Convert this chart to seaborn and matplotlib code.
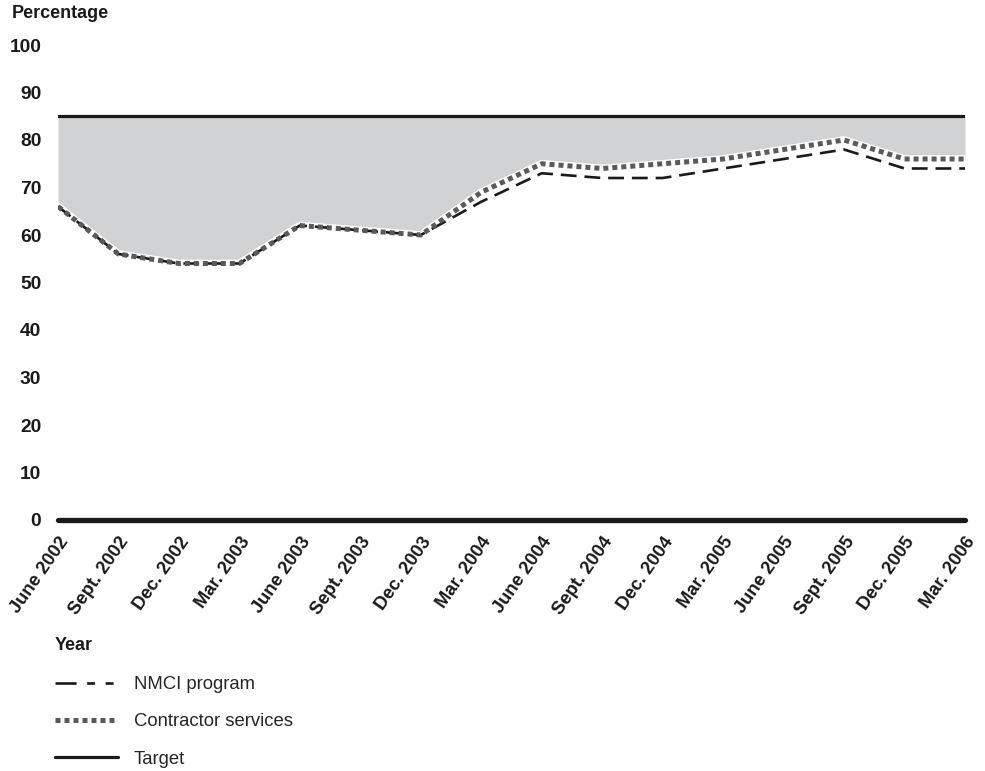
import numpy as np
import pandas as pd
import matplotlib
matplotlib.use("Agg")
import matplotlib.pyplot as plt
import seaborn as sns
from matplotlib.lines import Line2D

# data
quarters = ["June 2002", "Sept. 2002", "Dec. 2002", "Mar. 2003", "June 2003",
            "Sept. 2003", "Dec. 2003", "Mar. 2004", "June 2004", "Sept. 2004",
            "Dec. 2004", "Mar. 2005", "June 2005", "Sept. 2005", "Dec. 2005",
            "Mar. 2006"]
nmci_program = [66, 56, 54, 54, 62, 61, 60, 67, 73, 72, 72, 74, 76, 78, 74, 74]
contractor_services = [66, 56, 54, 54, 62, 61, 60, 69, 75, 74, 75, 76, 78, 80, 76, 76]
target = [85] * len(quarters)
y_ticks = [0, 10, 20, 30, 40, 50, 60, 70, 80, 90, 100]

sns.set_style("white")
plt.rcParams['font.family'] = ['Liberation Sans', 'DejaVu Sans']

df = pd.DataFrame({
    "pos": np.arange(len(quarters)),
    "NMCI program": nmci_program,
    "Contractor services": contractor_services,
    "Target": target,
})

fig = plt.figure(figsize=(9.85, 7.71), dpi=100)
ax = fig.add_axes([58 / 985, 1 - 520 / 771, (965 - 58) / 985, (520 - 45) / 771])

# shaded gap between contractor services and target
ax.fill_between(df["pos"], df["Contractor services"], df["Target"],
                color="#d1d2d4", linewidth=0, zorder=1)

# white halo under the dotted line
sns.lineplot(data=df, x="pos", y="Contractor services", ax=ax, color="white",
             lw=5.5, zorder=2, legend=False)
sns.lineplot(data=df, x="pos", y="NMCI program", ax=ax, color="#1a1a1a",
             lw=1.9, zorder=3, legend=False)
ax.lines[-1].set_dashes([6, 3])
sns.lineplot(data=df, x="pos", y="Contractor services", ax=ax, color="#5a5a5a",
             lw=3.6, zorder=4, legend=False)
ax.lines[-1].set_dashes([1, 0.8])
ax.lines[-1].set_dash_capstyle("butt")
sns.lineplot(data=df, x="pos", y="Target", ax=ax, color="#1a1a1a",
             lw=2.3, zorder=5, legend=False)

# thick zero baseline
ax.axhline(0, color="#1a1a1a", lw=3.8, zorder=6, clip_on=False)

ax.set_xlim(0, len(quarters) - 1)
ax.set_ylim(0, 100)
ax.set_yticks(y_ticks)
ax.set_yticklabels([str(v) for v in y_ticks], fontsize=13.8, fontweight="bold",
                   color="#1a1a1a")
ax.set_xticks(df["pos"])
ax.set_xticklabels(quarters, rotation=55, ha="right", va="top",
                   rotation_mode="anchor", fontsize=13.2, fontweight="bold",
                   color="#1a1a1a")
ax.tick_params(axis="y", length=0, pad=12)
ax.tick_params(axis="x", length=0, pad=10)
ax.set_xlabel("")
ax.set_ylabel("")
for s in ax.spines.values():
    s.set_visible(False)

fig.text(12 / 985, 1 - 14 / 771, "Percentage", fontsize=13, fontweight="bold",
         va="center", ha="left", color="#1a1a1a")
fig.text(55 / 985, 1 - 646 / 771, "Year", fontsize=13, fontweight="bold",
         va="center", ha="left", color="#1a1a1a")

handles = [
    Line2D([], [], color="#1a1a1a", lw=1.9, dashes=[8, 4, 3, 4, 3, 4]),
    Line2D([], [], color="#5a5a5a", lw=3.6, dashes=[1, 0.8], dash_capstyle="butt"),
    Line2D([], [], color="#1a1a1a", lw=2.3),
]
fig.legend(handles, ["NMCI program", "Contractor services", "Target"],
           loc="upper left", bbox_to_anchor=(55 / 985, 1 - 676 / 771),
           frameon=False, fontsize=13.3, handlelength=3.4, handletextpad=0.85,
           labelspacing=1.1, borderaxespad=0, borderpad=0)

fig.savefig("out.png", dpi=100)
